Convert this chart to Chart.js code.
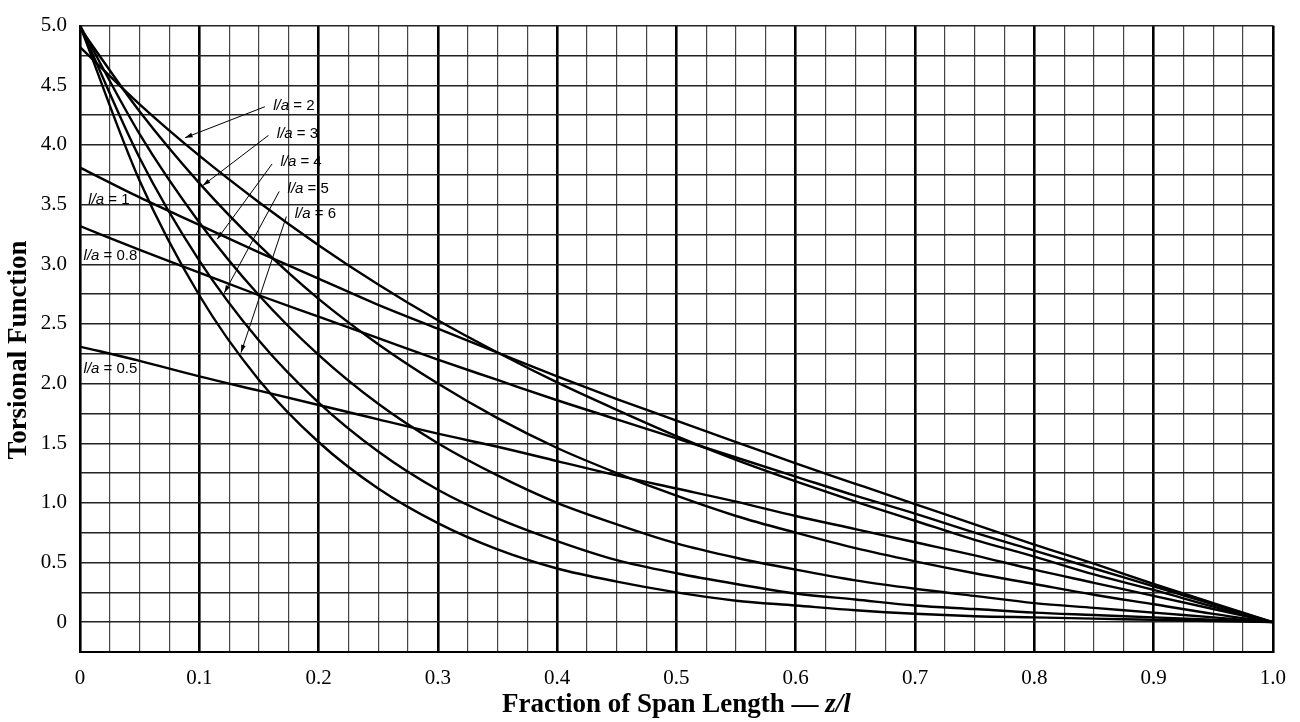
<!DOCTYPE html>
<html lang="en">
<head>
    <meta charset="UTF-8">
    <title>Torsional Function</title>
    <script src="https://cdn.jsdelivr.net/npm/chart.js"></script>
    <style>
        html, body { margin: 0; padding: 0; background: #fff; }
        #wrap { width: 1300px; height: 722px; }
    </style>
</head>
<body>
    <div id="wrap"><canvas id="torsion-chart"></canvas></div>

    <script>
        // fraction of span length z/l
        const spanFractions = [0, 0.05, 0.1, 0.15, 0.2, 0.25, 0.3, 0.35, 0.4, 0.45, 0.5,
                               0.55, 0.6, 0.65, 0.7, 0.75, 0.8, 0.85, 0.9, 0.95, 1.0];

        // torsional function, one list per l/a
        const la05 = [2.31, 2.19, 2.06, 1.94, 1.82, 1.70, 1.58, 1.47, 1.35, 1.23, 1.12,
                      1.01, 0.89, 0.78, 0.67, 0.56, 0.44, 0.33, 0.22, 0.11, 0];
        const la08 = [3.32, 3.12, 2.93, 2.74, 2.56, 2.38, 2.20, 2.03, 1.86, 1.70, 1.54,
                      1.38, 1.22, 1.06, 0.91, 0.75, 0.60, 0.45, 0.30, 0.15, 0];
        const la1 = [3.81, 3.56, 3.33, 3.10, 2.88, 2.66, 2.46, 2.26, 2.06, 1.87, 1.69,
                     1.51, 1.33, 1.16, 0.99, 0.82, 0.65, 0.49, 0.32, 0.16, 0];
        const la2 = [4.82, 4.34, 3.91, 3.52, 3.16, 2.83, 2.53, 2.26, 2.01, 1.78, 1.56,
                     1.36, 1.18, 1.01, 0.85, 0.69, 0.55, 0.40, 0.27, 0.13, 0];
        const la3 = [4.98, 4.28, 3.68, 3.16, 2.71, 2.33, 2.00, 1.71, 1.46, 1.25, 1.06,
                     0.89, 0.75, 0.62, 0.51, 0.41, 0.32, 0.23, 0.15, 0.07, 0];
        const la4 = [5.00, 4.09, 3.35, 2.74, 2.24, 1.83, 1.50, 1.23, 1.00, 0.82, 0.66,
                     0.54, 0.44, 0.35, 0.28, 0.22, 0.16, 0.12, 0.08, 0.04, 0];
        const la5 = [5.00, 3.89, 3.03, 2.36, 1.84, 1.43, 1.11, 0.87, 0.68, 0.52, 0.41,
                     0.32, 0.24, 0.19, 0.14, 0.11, 0.08, 0.06, 0.04, 0.02, 0];
        const la6 = [5.00, 3.70, 2.74, 2.03, 1.51, 1.12, 0.83, 0.61, 0.45, 0.34, 0.25,
                     0.18, 0.14, 0.10, 0.07, 0.05, 0.04, 0.03, 0.02, 0.01, 0];

        const seriesList = [la05, la08, la1, la2, la3, la4, la5, la6];
        const seriesNames = ['0.5', '0.8', '1', '2', '3', '4', '5', '6'];

        // curve labels: text anchor (z/l, value) and optional leader to the curve
        const curveLabels = [
            { name: '2',   at: [0.162, 4.33], from: [0.155, 4.32], to: [0.088, 4.06] },
            { name: '3',   at: [0.165, 4.09], from: [0.158, 4.08], to: [0.103, 3.66] },
            { name: '4',   at: [0.168, 3.86], from: [0.161, 3.84], to: [0.115, 3.21] },
            { name: '5',   at: [0.174, 3.63], from: [0.167, 3.61], to: [0.121, 2.76] },
            { name: '6',   at: [0.180, 3.42], from: [0.173, 3.40], to: [0.135, 2.26] },
            { name: '1',   at: [0.007, 3.54] },
            { name: '0.8', at: [0.003, 3.07] },
            { name: '0.5', at: [0.003, 2.12] }
        ];

        function isMultiple(v, step) {
            const q = v / step;
            return Math.abs(q - Math.round(q)) < 1e-6;
        }

        // draws the l/a labels, leader arrows and the axis titles
        const labelPlugin = {
            id: 'curveLabels',
            afterDatasetsDraw(chart) {
                const ctx = chart.ctx;
                const xs = chart.scales.x;
                const ys = chart.scales.y;
                ctx.save();
                ctx.fillStyle = '#000';
                ctx.strokeStyle = '#000';
                ctx.textBaseline = 'middle';
                curveLabels.forEach(lb => {
                    let px = xs.getPixelForValue(lb.at[0]);
                    const py = ys.getPixelForValue(lb.at[1]);
                    ctx.font = 'italic 15px "Liberation Sans"';
                    ctx.textAlign = 'left';
                    ctx.fillText('l/a', px, py);
                    px += ctx.measureText('l/a').width;
                    ctx.font = '15px "Liberation Sans"';
                    ctx.fillText(' = ' + lb.name, px, py);
                    if (lb.from) {
                        const x1 = xs.getPixelForValue(lb.from[0]);
                        const y1 = ys.getPixelForValue(lb.from[1]);
                        const x2 = xs.getPixelForValue(lb.to[0]);
                        const y2 = ys.getPixelForValue(lb.to[1]);
                        ctx.lineWidth = 1;
                        ctx.beginPath();
                        ctx.moveTo(x1, y1);
                        ctx.lineTo(x2, y2);
                        ctx.stroke();
                        const ang = Math.atan2(y2 - y1, x2 - x1);
                        ctx.beginPath();
                        ctx.moveTo(x2, y2);
                        ctx.lineTo(x2 - 8 * Math.cos(ang - 0.3), y2 - 8 * Math.sin(ang - 0.3));
                        ctx.lineTo(x2 - 8 * Math.cos(ang + 0.3), y2 - 8 * Math.sin(ang + 0.3));
                        ctx.closePath();
                        ctx.fill();
                    }
                });

                // x title, z/l in italic
                const area = chart.chartArea;
                const partA = 'Fraction of Span Length \u2014 ';
                const partB = 'z/l';
                ctx.font = 'bold 27px "Liberation Serif"';
                const wA = ctx.measureText(partA).width;
                ctx.font = 'bold italic 27px "Liberation Serif"';
                const wB = ctx.measureText(partB).width;
                const tx = (area.left + area.right) / 2 - (wA + wB) / 2;
                const ty = 705;
                ctx.textAlign = 'left';
                ctx.font = 'bold 27px "Liberation Serif"';
                ctx.fillText(partA, tx, ty);
                ctx.font = 'bold italic 27px "Liberation Serif"';
                ctx.fillText(partB, tx + wA, ty);

                // y title
                ctx.translate(19, 350);
                ctx.rotate(-Math.PI / 2);
                ctx.textAlign = 'center';
                ctx.font = 'bold 27px "Liberation Serif"';
                ctx.fillText('Torsional Function', 0, 0);
                ctx.restore();
            }
        };

        function displayChart() {
            const ctx = document.getElementById('torsion-chart').getContext('2d');
            new Chart(ctx, {
                type: 'line',
                data: {
                    datasets: seriesList.map((vals, i) => ({
                        label: 'l/a = ' + seriesNames[i],
                        data: spanFractions.map((z, j) => ({ x: z, y: vals[j] })),
                        borderColor: '#000',
                        borderWidth: 2.4,
                        pointRadius: 0,
                        fill: false,
                        cubicInterpolationMode: 'monotone'
                    }))
                },
                options: {
                    responsive: true,
                    maintainAspectRatio: false,
                    animation: false,
                    layout: { padding: { top: 14, right: 23, left: 0, bottom: 0 } },
                    plugins: {
                        legend: { display: false },
                        tooltip: { enabled: false }
                    },
                    scales: {
                        x: {
                            type: 'linear',
                            min: 0,
                            max: 1,
                            afterFit: s => { s.height = 70; },
                            border: { color: '#000', width: 2 },
                            grid: {
                                drawTicks: false,
                                color: c => isMultiple(c.tick.value, 0.1) ? '#000' : '#444',
                                lineWidth: c => isMultiple(c.tick.value, 0.1) ? 2.6 : 1.2
                            },
                            ticks: {
                                stepSize: 0.025,
                                autoSkip: false,
                                maxRotation: 0,
                                padding: 14,
                                color: '#000',
                                font: { family: '"Liberation Serif"', size: 21 },
                                callback: v => {
                                    if (!isMultiple(v, 0.1)) return '';
                                    return Math.abs(v) < 1e-9 ? '0' : v.toFixed(1);
                                }
                            }
                        },
                        y: {
                            min: -0.25,
                            max: 5,
                            afterFit: s => { s.width = 80; },
                            border: { color: '#000', width: 2 },
                            grid: {
                                drawTicks: false,
                                color: '#222',
                                lineWidth: 1.4
                            },
                            ticks: {
                                stepSize: 0.25,
                                autoSkip: false,
                                padding: 13,
                                color: '#000',
                                font: { family: '"Liberation Serif"', size: 21 },
                                callback: v => {
                                    if (v < 0 || !isMultiple(v, 0.5)) return '';
                                    return Math.abs(v) < 1e-9 ? '0' : v.toFixed(1);
                                }
                            }
                        }
                    }
                },
                plugins: [labelPlugin]
            });
        }

        window.onload = displayChart;
    </script>
</body>
</html>
